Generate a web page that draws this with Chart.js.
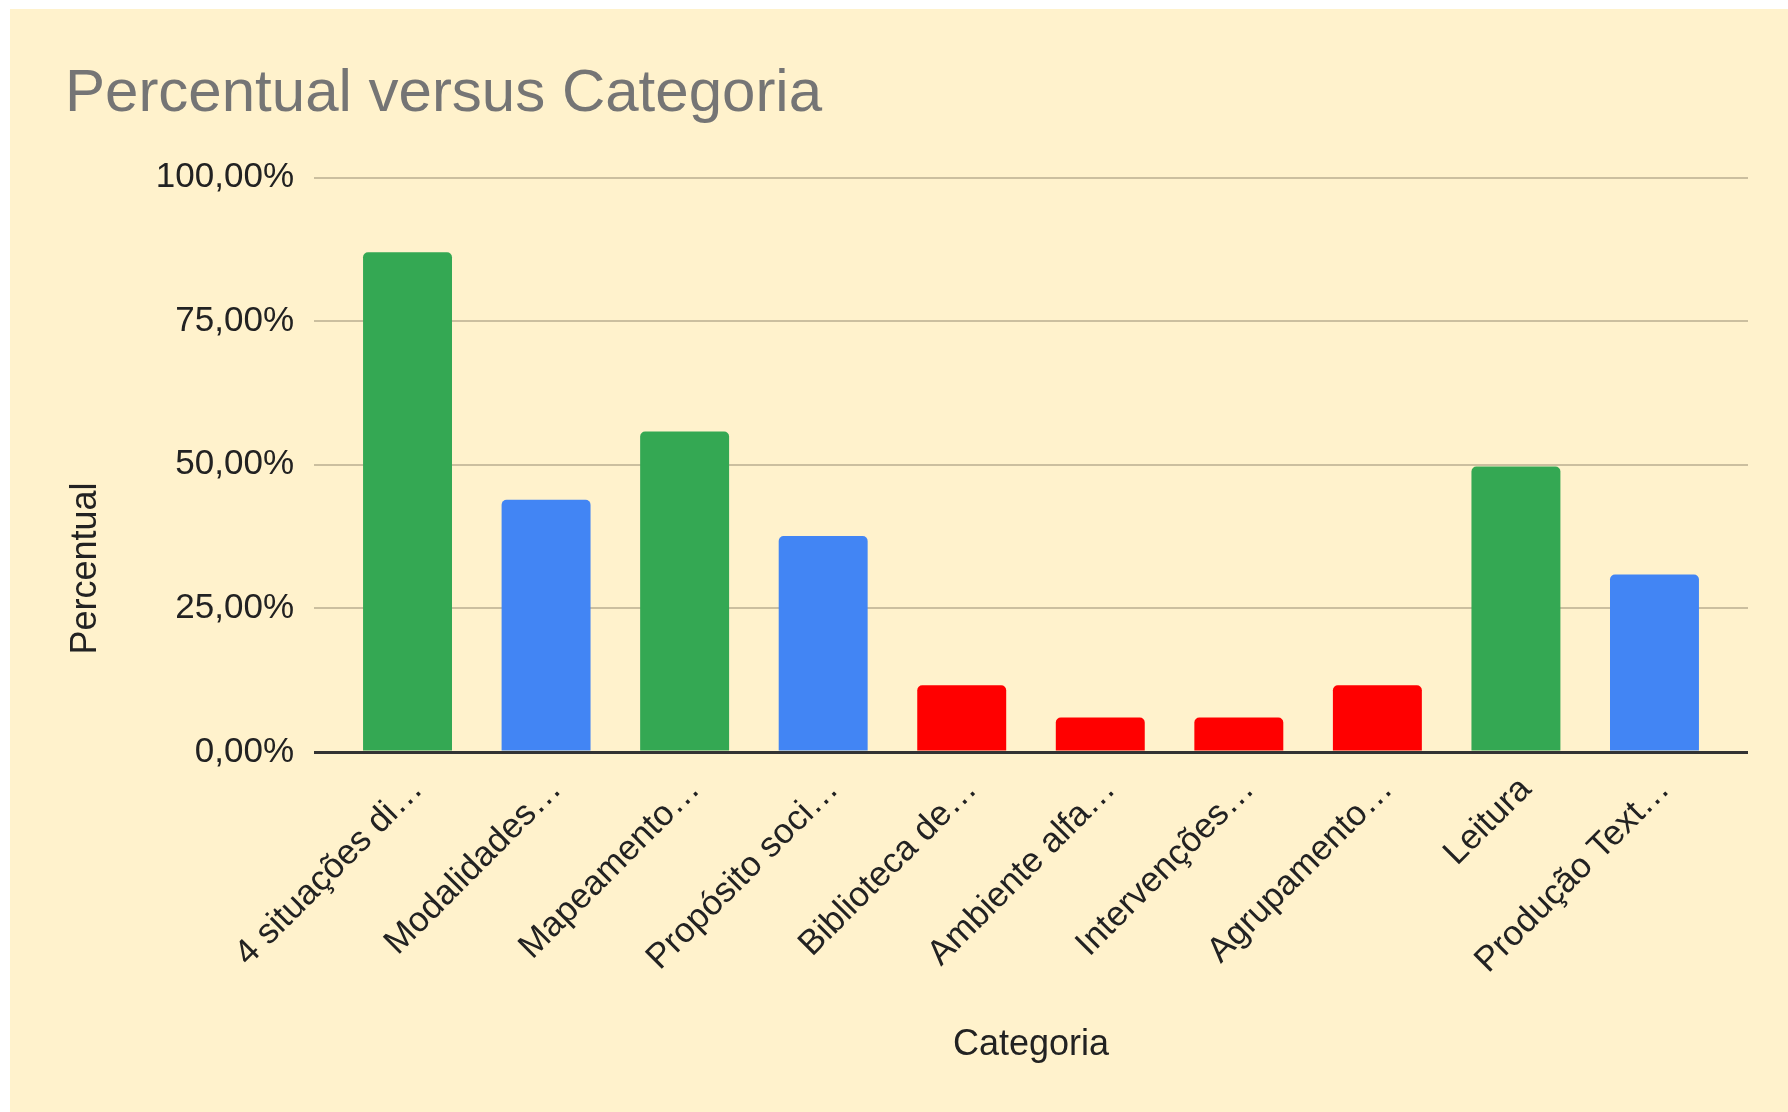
<!DOCTYPE html>
<html>
<head>
<meta charset="utf-8">
<script src="https://cdn.jsdelivr.net/npm/chart.js@4.4.1/dist/chart.umd.min.js"></script>
<style>
  html, body { margin: 0; padding: 0; background: #ffffff; }
  #wrap { position: absolute; left: 10px; top: 9px; width: 1778px; height: 1103px; background: #FFF2CC; }
  canvas { display: block; }
</style>
</head>
<body>
<div id="wrap"><canvas id="c"></canvas></div>
<script>
const categories = ['4 situações di…', 'Modalidades…', 'Mapeamento…', 'Propósito soci…', 'Biblioteca de…',
                    'Ambiente alfa…', 'Intervenções…', 'Agrupamento…', 'Leitura', 'Produção Text…'];
const percentual = [87.0, 43.9, 55.8, 37.6, 11.6, 6.0, 6.0, 11.6, 49.7, 30.9];
const yTickValues = [0, 25, 50, 75, 100];
const yTickLabels = ['0,00%', '25,00%', '50,00%', '75,00%', '100,00%'];
const chartTitle = 'Percentual versus Categoria';
const xTitle = 'Categoria';
const yTitle = 'Percentual';

const GREEN = '#34A853', BLUE = '#4285F4', RED = '#FF0000';
const barColors = [GREEN, BLUE, GREEN, BLUE, RED, RED, RED, RED, GREEN, BLUE];

const FONT = "'Liberation Sans', Arial, sans-serif";

const yTitlePlugin = {
  id: 'yTitlePlugin',
  afterDraw(chart) {
    const ctx = chart.ctx;
    const ys = chart.scales.y;
    ctx.save();
    ctx.font = '36px ' + FONT;
    ctx.fillStyle = '#222222';
    ctx.textAlign = 'center';
    ctx.textBaseline = 'middle';
    ctx.translate(ys.left + 21.5, chart.height / 2 + 8);
    ctx.rotate(-Math.PI / 2);
    ctx.fillText(yTitle, 0, 0);
    ctx.restore();
  }
};

new Chart(document.getElementById('c'), {
  type: 'bar',
  data: {
    datasets: [{
      label: yTitle,
      data: percentual.map((v, i) => ({ x: i, y: v })),
      backgroundColor: barColors,
      borderRadius: 5,
      borderSkipped: 'start',
      categoryPercentage: 1.0,
      barPercentage: 0.642
    }]
  },
  options: {
    responsive: true,
    maintainAspectRatio: false,
    animation: false,
    layout: { padding: { left: 55, right: 40, top: 0, bottom: 0 } },
    plugins: {
      legend: { display: false },
      tooltip: { enabled: false },
      title: {
        display: true,
        text: chartTitle,
        align: 'start',
        color: '#757575',
        font: { family: FONT, size: 60, weight: 'normal' },
        padding: { top: 49, bottom: 47.5 }
      }
    },
    scales: {
      x: {
        type: 'linear',
        offset: false,
        min: -0.675,
        max: 9.675,
        afterBuildTicks(scale) { scale.ticks = categories.map((_, i) => ({ value: i })); },
        afterFit(scale) { scale.height = 360; },
        grid: { display: false, drawTicks: false },
        border: { display: false },
        ticks: {
          autoSkip: false,
          minRotation: 45,
          maxRotation: 45,
          padding: 17,
          labelOffset: 10,
          color: '#222222',
          font: { family: FONT, size: 35 },
          callback: (value) => categories[value]
        },
        title: {
          display: true,
          text: xTitle,
          color: '#222222',
          font: { family: FONT, size: 36 },
          padding: { top: 0, bottom: 45 }
        }
      },
      y: {
        min: 0,
        max: 100,
        afterBuildTicks(scale) { scale.ticks = yTickValues.map(v => ({ value: v })); },
        afterFit(scale) { scale.width = 249; },
        grid: {
          drawTicks: false,
          color: (ctx) => ctx.tick && ctx.tick.value === 0 ? '#333333' : '#CBBF9F',
          lineWidth: (ctx) => ctx.tick && ctx.tick.value === 0 ? 3 : 2
        },
        border: { display: false },
        ticks: {
          padding: 20,
          color: '#222222',
          font: { family: FONT, size: 35 },
          callback: (value, index) => yTickLabels[yTickValues.indexOf(value)]
        }
      }
    }
  },
  plugins: [yTitlePlugin]
});
</script>
</body>
</html>
